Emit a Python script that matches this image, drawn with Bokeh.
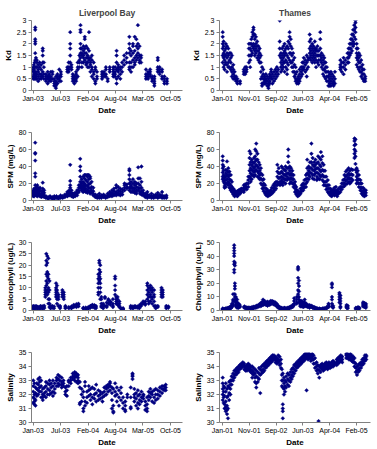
import datetime as dt

from bokeh.embed import file_html
from bokeh.layouts import gridplot
from bokeh.models import (ColumnDataSource, CustomJSTickFormatter, DatetimeTickFormatter,
                          FixedTicker, Range1d)
from bokeh.plotting import figure
from bokeh.resources import INLINE

FONT = "Liberation Sans"
NAVY = "#000080"

# ---------------------------------------------------------------- data
# Each entry: (sampling date, readings taken around that date)

LB_KD = [
    ("2003-01-10", [0.8, 0.9, 1.0, 0.6, 0.5]),
    ("2003-01-14", [0.7, 1.1, 0.6, 0.9]),
    ("2003-01-20", [0.5, 0.8, 1.2, 1.0]),
    ("2003-01-24", [2.7, 2.6, 2.2, 2.1, 2.0, 1.6, 1.3, 0.6, 0.7]),
    ("2003-01-29", [1.4, 1.0, 0.8, 0.6, 0.5]),
    ("2003-02-05", [0.5, 0.7, 1.0, 1.3, 1.2]),
    ("2003-02-15", [0.6, 0.9, 1.1, 0.8, 0.4]),
    ("2003-02-25", [0.7, 1.2, 1.0, 0.5]),
    ("2003-03-08", [0.9, 1.1, 0.6, 0.5, 0.7]),
    ("2003-03-20", [1.8, 1.7, 1.5, 1.2, 0.8, 0.6]),
    ("2003-03-28", [1.2, 1.0, 0.7, 0.5]),
    ("2003-04-12", [0.5, 0.6, 0.4, 0.7]),
    ("2003-04-25", [0.6, 0.5, 0.3, 0.8]),
    ("2003-05-05", [0.4, 0.6, 0.7, 0.5]),
    ("2003-05-18", [0.5, 0.8, 0.6, 0.4]),
    ("2003-05-30", [0.7, 0.8, 0.5]),
    ("2003-06-12", [0.3, 0.2, 0.4, 0.5]),
    ("2003-06-24", [0.1, 0.2, 0.3, 0.4, 0.6]),
    ("2003-07-05", [0.3, 0.5, 0.6, 0.7]),
    ("2003-07-18", [0.5, 0.9, 0.6, 0.4]),
    ("2003-07-30", [0.4, 0.6, 0.8, 0.7]),
    ("2003-09-15", [0.8, 1.0, 0.9]),
    ("2003-09-25", [1.0, 1.2, 0.8, 0.9]),
    ("2003-10-06", [2.5, 2.0, 1.8, 1.5, 1.2, 1.0]),
    ("2003-10-15", [0.9, 1.1, 1.0]),
    ("2003-10-25", [0.5, 0.4, 0.7, 0.6]),
    ("2003-11-05", [0.3, 0.5, 0.6, 0.4]),
    ("2003-11-18", [0.6, 0.4, 0.7, 0.5, 0.8]),
    ("2003-11-30", [0.9, 1.0, 1.2, 0.6]),
    ("2003-12-12", [1.0, 1.3, 1.5, 1.2]),
    ("2003-12-20", [2.8, 2.6, 2.5, 2.0, 1.8, 1.6, 1.4]),
    ("2003-12-30", [1.5, 1.8, 1.6, 1.2, 1.0]),
    ("2004-01-10", [1.9, 1.7, 1.4, 1.2, 1.5]),
    ("2004-01-20", [2.3, 2.2, 1.8, 1.6, 1.3]),
    ("2004-01-30", [1.6, 1.4, 1.2, 1.1, 1.9]),
    ("2004-02-10", [1.8, 1.5, 1.2, 1.0, 1.4]),
    ("2004-02-20", [2.5, 1.7, 1.3, 1.0, 1.4]),
    ("2004-03-01", [1.2, 1.1, 0.8, 1.4]),
    ("2004-03-12", [1.5, 1.3, 1.0, 0.9, 0.6]),
    ("2004-03-25", [1.2, 0.8, 0.5, 0.7]),
    ("2004-04-06", [0.9, 1.0, 0.4, 0.3]),
    ("2004-04-18", [0.8, 0.6, 0.5]),
    ("2004-05-25", [0.6, 0.7, 0.5, 0.8]),
    ("2004-06-08", [0.6, 0.8, 0.7]),
    ("2004-06-22", [0.7, 0.9, 0.6, 1.0]),
    ("2004-07-05", [0.4, 0.5]),
    ("2004-07-20", [0.8, 0.9, 1.0]),
    ("2004-08-15", [0.8, 0.9, 0.7, 1.0, 0.6]),
    ("2004-08-28", [0.7, 1.0, 0.6, 0.8]),
    ("2004-09-08", [1.7, 1.5, 1.2, 0.9, 0.3, 0.5]),
    ("2004-09-20", [1.0, 0.8, 0.6, 0.9, 1.1]),
    ("2004-10-05", [0.7, 0.9, 1.0, 0.5]),
    ("2004-10-18", [1.2, 1.0, 0.8]),
    ("2004-11-02", [1.3, 1.5, 1.1]),
    ("2004-11-20", [1.2, 1.6, 1.4]),
    ("2004-12-10", [2.3, 2.0, 1.8, 1.6, 1.0, 1.2, 0.9]),
    ("2004-12-22", [1.5, 1.2, 1.0, 1.7, 0.8]),
    ("2005-01-05", [1.6, 1.3, 1.0, 1.9, 2.0]),
    ("2005-01-18", [1.4, 1.7, 1.1, 1.2, 2.3]),
    ("2005-01-30", [2.2, 1.9, 1.5, 1.3]),
    ("2005-02-10", [2.8, 2.0, 1.8, 1.6, 1.4]),
    ("2005-02-22", [1.5, 1.2, 1.3, 1.9]),
    ("2005-03-05", [1.2, 1.4, 1.5]),
    ("2005-04-10", [0.5, 0.6, 0.9, 0.7]),
    ("2005-04-25", [0.7, 0.6, 0.8, 0.5]),
    ("2005-05-10", [0.6, 0.8, 0.7, 0.9]),
    ("2005-05-25", [0.5, 0.4, 0.6]),
    ("2005-06-10", [0.3, 0.5, 0.4, 0.2, 0.6]),
    ("2005-07-05", [1.4, 1.3, 1.0, 0.8, 0.9]),
    ("2005-07-18", [0.8, 1.0, 0.7, 0.9]),
    ("2005-08-05", [0.9, 0.5, 0.6, 0.8]),
    ("2005-08-22", [0.4, 0.5, 0.6, 0.3]),
    ("2005-09-10", [0.3, 0.4, 0.5]),
]

LB_SPM = [
    ("2003-01-10", [6, 8, 10, 12, 5]),
    ("2003-01-16", [9, 14, 7, 5, 11]),
    ("2003-01-24", [68, 56, 55, 47, 32, 28, 18, 12, 8]),
    ("2003-01-30", [15, 10, 7, 6, 13]),
    ("2003-02-08", [5, 8, 12, 16, 18]),
    ("2003-02-18", [6, 9, 14, 10]),
    ("2003-02-28", [7, 12, 15, 5]),
    ("2003-03-10", [4, 8, 11, 6]),
    ("2003-03-20", [21, 14, 10, 7, 5]),
    ("2003-03-30", [9, 6, 4, 12]),
    ("2003-04-12", [4, 3, 5]),
    ("2003-04-28", [3, 4, 2]),
    ("2003-05-12", [4, 3, 5]),
    ("2003-05-28", [3, 2, 4]),
    ("2003-06-12", [4, 3, 5, 2]),
    ("2003-06-28", [3, 5, 4]),
    ("2003-07-12", [4, 2, 3]),
    ("2003-07-28", [5, 3, 4, 6]),
    ("2003-08-12", [3, 4, 5]),
    ("2003-08-28", [5, 7, 4]),
    ("2003-09-15", [6, 8, 5, 10]),
    ("2003-09-28", [9, 12, 7, 6]),
    ("2003-10-06", [42, 23, 18, 15, 10, 8]),
    ("2003-10-16", [12, 9, 7, 5]),
    ("2003-10-28", [6, 5, 8, 4]),
    ("2003-11-10", [7, 5, 9, 6]),
    ("2003-11-25", [8, 10, 6, 12]),
    ("2003-12-08", [12, 15, 18, 10]),
    ("2003-12-18", [49, 40, 35, 28, 22, 18, 15]),
    ("2003-12-28", [20, 25, 16, 12, 14]),
    ("2004-01-08", [28, 22, 18, 15, 12, 10]),
    ("2004-01-18", [30, 26, 20, 16, 13, 11]),
    ("2004-01-28", [30, 24, 18, 14, 10]),
    ("2004-02-08", [28, 30, 22, 17, 12, 9]),
    ("2004-02-18", [30, 25, 19, 15, 11]),
    ("2004-02-28", [26, 28, 20, 14, 10, 8]),
    ("2004-03-10", [22, 16, 12, 9]),
    ("2004-03-22", [15, 11, 8, 6]),
    ("2004-04-06", [5, 7, 4]),
    ("2004-04-20", [4, 6, 3]),
    ("2004-05-05", [5, 3, 4, 8]),
    ("2004-05-20", [3, 5, 6]),
    ("2004-06-05", [4, 7, 5]),
    ("2004-06-20", [3, 5, 4]),
    ("2004-07-05", [6, 4, 8]),
    ("2004-07-20", [5, 8, 10, 6]),
    ("2004-08-05", [7, 9, 12, 5]),
    ("2004-08-20", [8, 11, 6, 14]),
    ("2004-09-05", [10, 15, 18, 8, 6]),
    ("2004-09-20", [12, 16, 9, 7]),
    ("2004-10-05", [8, 11, 14, 6]),
    ("2004-10-20", [10, 13, 7]),
    ("2004-11-05", [15, 18, 20, 12]),
    ("2004-11-22", [16, 19, 14]),
    ("2004-12-10", [37, 35, 30, 25, 20, 15, 12]),
    ("2004-12-22", [22, 18, 14, 10, 16]),
    ("2005-01-05", [20, 25, 15, 12, 10]),
    ("2005-01-18", [18, 14, 11, 22, 9]),
    ("2005-01-30", [16, 20, 12, 10, 8]),
    ("2005-02-12", [39, 26, 20, 15, 12]),
    ("2005-02-25", [26, 18, 14, 10, 8]),
    ("2005-03-08", [40, 22, 15, 11, 7]),
    ("2005-03-20", [12, 9, 6]),
    ("2005-04-05", [4, 6, 8, 5]),
    ("2005-04-20", [3, 5, 7, 10]),
    ("2005-05-05", [4, 6, 5]),
    ("2005-05-20", [3, 5, 8]),
    ("2005-06-05", [4, 6, 3]),
    ("2005-06-20", [5, 7, 4]),
    ("2005-07-05", [6, 9, 4, 3]),
    ("2005-07-20", [5, 4, 7]),
    ("2005-08-05", [3, 10, 6, 4]),
    ("2005-08-20", [5, 4, 3]),
    ("2005-09-05", [4, 6, 3]),
]

LB_CHL = [
    ("2003-01-10", [1.0, 1.5, 0.8, 2.0]),
    ("2003-01-20", [1.2, 0.7, 1.8]),
    ("2003-01-30", [1.5, 1.0, 2.0]),
    ("2003-02-10", [0.8, 1.3, 1.7]),
    ("2003-02-22", [1.1, 1.6, 0.9]),
    ("2003-03-05", [1.4, 2.0, 1.0]),
    ("2003-03-18", [1.2, 1.8, 0.8]),
    ("2003-03-30", [1.5, 2.1, 1.0]),
    ("2003-04-08", [8, 7, 9, 10, 6]),
    ("2003-04-15", [25, 22, 20, 16, 13, 11, 8]),
    ("2003-04-22", [24, 21, 17, 15, 12, 9, 7]),
    ("2003-04-30", [23, 16, 14, 10, 8, 5, 3]),
    ("2003-05-08", [13, 9, 5, 3, 1.5]),
    ("2003-05-16", [2, 1.5, 1.0]),
    ("2003-05-28", [1.2, 2.0, 1.5]),
    ("2003-06-10", [1.0, 1.8]),
    ("2003-06-25", [12, 10, 9, 8, 7, 6]),
    ("2003-07-02", [11, 9, 8, 6, 5, 3]),
    ("2003-07-12", [7, 6, 5, 2]),
    ("2003-07-24", [1.5, 1.0, 2.0]),
    ("2003-08-10", [9, 8, 7, 6]),
    ("2003-08-20", [8, 7, 5, 6]),
    ("2003-09-01", [1.5, 1.0, 2.0]),
    ("2003-09-26", [1.5, 1.0]),
    ("2003-10-15", [1.2, 1.8, 1.0]),
    ("2003-11-01", [1.5, 2.0, 2.5]),
    ("2003-11-20", [2.0, 2.8, 1.5]),
    ("2003-12-05", [2.5, 3.0, 1.8]),
    ("2004-01-10", [1.0, 0.8, 1.2]),
    ("2004-01-28", [0.9, 1.3, 0.7]),
    ("2004-02-15", [1.0, 1.5, 0.8]),
    ("2004-03-01", [1.8, 1.2, 2.0]),
    ("2004-03-15", [2.2, 1.5, 2.5]),
    ("2004-03-30", [1.8, 2.4, 1.2]),
    ("2004-04-10", [1.5, 2.0, 1.0]),
    ("2004-04-28", [16, 14, 12, 10, 8, 7]),
    ("2004-05-05", [22, 21, 18, 16, 15, 13]),
    ("2004-05-12", [20, 17, 14, 12, 10, 8, 5]),
    ("2004-05-20", [6, 5, 3, 2, 1.5]),
    ("2004-06-02", [2.5, 1.8, 3.0, 1.0]),
    ("2004-06-15", [6.0, 5.5, 2.0]),
    ("2004-06-28", [2.0, 3.5, 1.5]),
    ("2004-07-10", [4.5, 3.0, 5.0]),
    ("2004-07-25", [3.5, 4.0, 2.5]),
    ("2004-08-12", [5, 3, 2, 1.5]),
    ("2004-08-28", [15, 14, 11, 9, 7]),
    ("2004-09-05", [6, 5, 4, 3]),
    ("2004-09-15", [5, 4, 2.5, 6]),
    ("2004-09-28", [3, 2, 4, 1.5]),
    ("2004-10-10", [1.0, 0.8]),
    ("2004-10-25", [0.7, 1.0, 0.5]),
    ("2004-12-20", [1.5, 1.0, 2.0]),
    ("2005-01-05", [1.2, 1.8, 1.0]),
    ("2005-01-20", [1.5, 2.0, 1.3]),
    ("2005-02-05", [1.2, 1.8]),
    ("2005-02-20", [1.5, 2.2, 1.0]),
    ("2005-03-05", [2.0, 3.0, 2.5]),
    ("2005-03-20", [3.5, 4.0, 3.0]),
    ("2005-04-05", [2.5, 3.0, 4.0]),
    ("2005-04-20", [12, 11, 9, 7, 5]),
    ("2005-04-30", [10, 8, 6, 4, 3]),
    ("2005-05-12", [11, 10, 9, 7, 6, 4]),
    ("2005-05-25", [10, 9, 8, 6, 5, 3]),
    ("2005-06-08", [9, 7, 6, 4, 2]),
    ("2005-06-20", [2, 1.5, 1.0]),
    ("2005-07-05", [1.5, 2.0]),
    ("2005-08-01", [10, 9, 8, 7, 6]),
    ("2005-08-10", [9, 8, 7, 6]),
    ("2005-09-05", [1.5, 1.0, 2.0]),
    ("2005-09-20", [1.2, 1.8]),
]

LB_SAL = [
    ("2003-01-10", [33.0, 32.6, 32.2, 31.8, 31.4]),
    ("2003-01-18", [32.8, 32.0, 31.5, 31.3, 31.7]),
    ("2003-01-26", [31.2, 31.6, 32.1, 32.5]),
    ("2003-02-05", [32.0, 32.4, 32.8, 31.9]),
    ("2003-02-15", [33.1, 32.7, 32.3, 32.0]),
    ("2003-02-25", [33.2, 32.9, 32.5, 32.2]),
    ("2003-03-08", [32.6, 32.2, 31.8, 33.0]),
    ("2003-03-20", [31.6, 32.0, 32.4, 31.8]),
    ("2003-04-01", [32.5, 32.1, 31.9]),
    ("2003-04-12", [32.2, 32.6, 32.9, 31.8]),
    ("2003-04-25", [32.8, 32.4, 32.0]),
    ("2003-05-08", [32.0, 32.3, 32.7, 33.0]),
    ("2003-05-20", [32.5, 32.1, 32.8]),
    ("2003-06-02", [32.2, 32.6, 33.0, 31.9]),
    ("2003-06-15", [32.4, 32.8, 32.1]),
    ("2003-06-28", [33.0, 32.6, 33.2]),
    ("2003-07-10", [33.1, 33.4, 32.8, 32.6]),
    ("2003-07-22", [32.7, 33.0, 33.3]),
    ("2003-08-05", [32.5, 32.9, 33.2, 32.7]),
    ("2003-08-18", [33.0, 32.6, 32.8]),
    ("2003-09-01", [32.2, 32.5, 32.0]),
    ("2003-09-12", [32.6, 31.9, 32.3]),
    ("2003-09-25", [32.9, 33.0, 32.6]),
    ("2003-10-10", [33.0, 33.2, 32.8]),
    ("2003-10-25", [33.3, 33.5, 33.1]),
    ("2003-11-08", [33.6, 33.4, 33.2, 33.0]),
    ("2003-11-20", [33.5, 33.3, 32.9]),
    ("2003-12-02", [33.2, 32.8, 33.4, 33.0]),
    ("2003-12-15", [32.5, 31.4, 31.3, 32.9]),
    ("2003-12-28", [32.4, 32.0, 31.5]),
    ("2004-01-10", [31.8, 31.0, 30.8, 32.2]),
    ("2004-01-22", [32.6, 31.5, 31.2, 32.9]),
    ("2004-02-05", [31.8, 32.2, 31.4]),
    ("2004-02-18", [32.3, 31.9, 32.6]),
    ("2004-03-02", [31.6, 32.0, 32.4]),
    ("2004-03-15", [32.5, 31.8, 31.3]),
    ("2004-03-30", [32.0, 32.4, 31.7]),
    ("2004-04-12", [31.5, 32.1, 32.7]),
    ("2004-04-28", [31.9, 32.3, 31.6]),
    ("2004-05-12", [32.0, 31.7, 32.2]),
    ("2004-05-28", [31.8, 32.1, 31.5]),
    ("2004-06-10", [32.2, 32.5, 31.9]),
    ("2004-06-25", [32.4, 32.6, 32.0]),
    ("2004-07-08", [32.5, 32.7, 32.2]),
    ("2004-07-22", [32.9, 32.6, 32.3, 32.8]),
    ("2004-08-05", [32.5, 32.1, 31.6, 31.0]),
    ("2004-08-15", [31.2, 30.8, 30.7, 32.4]),
    ("2004-08-28", [32.8, 32.2, 31.9]),
    ("2004-09-10", [32.5, 32.0, 31.5]),
    ("2004-09-25", [31.8, 32.3, 31.2]),
    ("2004-10-10", [32.1, 31.6, 32.5]),
    ("2004-10-25", [31.4, 31.0, 31.8]),
    ("2004-11-10", [31.2, 30.9, 30.8, 31.5]),
    ("2004-11-25", [31.8, 32.0]),
    ("2004-12-20", [32.5, 31.8, 31.1, 31.0]),
    ("2005-01-02", [33.5, 33.3, 33.4, 33.1]),
    ("2005-01-15", [32.0, 31.5, 31.8, 32.4]),
    ("2005-01-28", [31.2, 31.7, 32.1]),
    ("2005-02-10", [31.9, 31.4, 32.3, 31.0]),
    ("2005-02-22", [31.6, 32.0, 31.3]),
    ("2005-03-08", [31.8, 31.5, 32.2]),
    ("2005-03-22", [31.7, 32.0, 31.9]),
    ("2005-04-05", [31.2, 30.9, 31.5]),
    ("2005-04-18", [31.3, 31.0, 30.8, 31.8]),
    ("2005-04-30", [31.6, 31.9, 32.2]),
    ("2005-05-12", [31.8, 32.1, 32.4]),
    ("2005-05-25", [32.2, 31.5, 32.0]),
    ("2005-06-08", [31.4, 31.8, 32.3]),
    ("2005-06-20", [31.6, 32.0, 32.4]),
    ("2005-07-05", [32.0, 32.3, 31.7]),
    ("2005-07-20", [32.2, 32.5, 31.9]),
    ("2005-08-05", [32.1, 32.4, 32.6]),
    ("2005-08-20", [32.3, 32.6, 32.4]),
    ("2005-09-01", [32.5, 32.7, 32.3]),
]

TH_KD = [
    ("2001-01-12", [2.5, 2.3, 2.0, 1.8, 1.5, 1.2]),
    ("2001-01-22", [2.1, 1.9, 1.6, 1.4, 1.0]),
    ("2001-02-02", [1.7, 1.5, 1.3, 1.1, 0.9]),
    ("2001-02-15", [2.0, 1.8, 1.5, 1.2]),
    ("2001-03-01", [1.9, 1.6, 1.4, 1.1, 0.8]),
    ("2001-03-15", [1.8, 1.5, 1.2, 1.0]),
    ("2001-03-28", [1.6, 1.3, 1.0]),
    ("2001-04-12", [1.6, 1.4, 1.2, 0.9]),
    ("2001-04-25", [1.5, 1.0, 0.8, 0.6]),
    ("2001-05-10", [1.1, 0.9, 0.7, 0.5]),
    ("2001-05-25", [0.8, 0.6, 0.5]),
    ("2001-06-10", [0.6, 0.5, 0.4]),
    ("2001-06-25", [0.5, 0.3, 0.4]),
    ("2001-07-25", [0.3, 0.4]),
    ("2001-09-05", [0.7, 0.9, 0.8]),
    ("2001-09-20", [1.0, 0.8, 0.7]),
    ("2001-10-05", [0.9, 1.0, 0.8]),
    ("2001-11-01", [1.2, 1.5, 1.8, 2.0]),
    ("2001-11-15", [2.0, 1.8, 1.5, 1.3, 1.0]),
    ("2001-11-28", [2.2, 2.0, 1.7, 1.5]),
    ("2001-12-10", [2.5, 2.3, 1.9, 1.6]),
    ("2001-12-22", [2.7, 2.6, 2.4, 2.0, 1.8]),
    ("2002-01-05", [2.4, 2.2, 1.9, 1.7, 1.5]),
    ("2002-01-18", [2.3, 2.0, 1.8, 1.6]),
    ("2002-02-01", [2.1, 1.9, 1.7, 1.4]),
    ("2002-02-15", [1.9, 1.7, 1.5, 1.3]),
    ("2002-03-01", [1.8, 1.6, 1.4, 1.2]),
    ("2002-03-15", [1.5, 1.2, 0.8, 0.5]),
    ("2002-03-28", [1.0, 0.6, 0.3, 0.2]),
    ("2002-04-10", [0.9, 0.7, 0.5, 0.3]),
    ("2002-04-25", [0.6, 0.4, 0.3, 0.5]),
    ("2002-05-10", [0.5, 0.7, 0.4, 0.3]),
    ("2002-05-25", [0.6, 0.4, 0.2]),
    ("2002-06-08", [0.5, 0.3, 0.1, 0.2]),
    ("2002-06-22", [0.4, 0.6, 0.7, 0.3]),
    ("2002-07-08", [0.8, 0.6, 0.5, 0.9]),
    ("2002-07-22", [0.5, 0.7, 0.3]),
    ("2002-08-08", [0.6, 0.8, 0.4]),
    ("2002-08-25", [0.9, 0.7, 0.5]),
    ("2002-09-10", [1.0, 0.8, 0.6]),
    ("2002-09-25", [0.9, 0.7]),
    ("2002-10-12", [3.0, 2.1, 1.8, 1.5]),
    ("2002-10-25", [1.6, 1.4, 1.2, 1.0, 0.8]),
    ("2002-11-08", [1.8, 1.5, 1.3, 1.1, 0.9]),
    ("2002-11-22", [1.9, 1.6, 1.4, 1.2, 1.0]),
    ("2002-12-05", [2.0, 1.7, 1.5, 1.2, 0.8]),
    ("2002-12-18", [1.8, 1.6, 1.3, 1.0]),
    ("2003-01-02", [1.9, 1.5, 1.2, 0.9, 0.7]),
    ("2003-01-15", [2.1, 1.8, 1.4, 1.1]),
    ("2003-01-30", [2.5, 2.3, 2.0, 1.6, 1.3]),
    ("2003-02-12", [2.2, 1.9, 1.6, 1.2]),
    ("2003-02-25", [1.8, 1.5, 1.2, 1.0]),
    ("2003-03-10", [1.6, 1.3, 1.0, 0.8]),
    ("2003-03-25", [1.4, 1.1, 0.8, 0.6]),
    ("2003-04-08", [1.0, 0.7, 0.5, 0.4]),
    ("2003-04-22", [0.8, 0.5, 0.3, 0.4]),
    ("2003-05-08", [0.6, 0.4, 0.3, 0.5]),
    ("2003-05-22", [0.7, 0.5, 0.9, 0.4]),
    ("2003-06-08", [0.8, 1.0, 0.6]),
    ("2003-06-22", [1.0, 0.7, 0.9, 1.2]),
    ("2003-07-08", [1.2, 0.9, 1.4, 1.0]),
    ("2003-07-25", [1.1, 1.3, 0.8]),
    ("2003-08-10", [1.5, 1.2, 0.9, 0.6]),
    ("2003-08-25", [1.3, 1.0, 1.4]),
    ("2003-09-12", [2.4, 2.1, 1.8, 1.6, 1.4]),
    ("2003-09-25", [2.2, 1.9, 1.7, 1.5, 1.3]),
    ("2003-10-10", [2.0, 1.8, 1.6, 1.4, 1.2]),
    ("2003-10-25", [1.9, 1.7, 1.5, 1.3]),
    ("2003-11-08", [2.1, 1.8, 1.6, 1.4, 1.2]),
    ("2003-11-22", [1.8, 1.7, 1.5, 1.3, 1.0]),
    ("2003-12-08", [1.9, 1.7, 1.5, 1.2]),
    ("2003-12-22", [1.7, 1.5, 1.3, 1.1]),
    ("2004-01-08", [2.5, 2.2, 1.8, 1.5, 1.3]),
    ("2004-01-22", [1.6, 1.4, 1.2, 1.0]),
    ("2004-02-08", [1.5, 1.3, 1.1, 0.9, 0.7]),
    ("2004-02-22", [1.4, 1.2, 0.9, 0.6]),
    ("2004-03-08", [1.2, 1.0, 0.8, 0.5]),
    ("2004-03-22", [1.0, 0.8, 0.4, 0.6]),
    ("2004-04-08", [0.8, 0.6, 0.4, 0.2]),
    ("2004-04-22", [0.7, 0.5, 0.3, 0.2]),
    ("2004-05-06", [0.8, 0.6, 0.4, 0.2]),
    ("2004-05-20", [0.7, 0.5, 0.3]),
    ("2004-06-05", [0.6, 0.4, 0.3, 0.2]),
    ("2004-06-20", [0.8, 0.5, 0.3]),
    ("2004-08-20", [1.3, 1.1, 1.0, 0.9]),
    ("2004-09-05", [1.2, 1.0, 0.8]),
    ("2004-09-25", [1.4, 1.2, 1.0, 0.7]),
    ("2004-10-15", [1.3, 1.1, 0.9]),
    ("2004-11-08", [1.6, 1.4, 1.2]),
    ("2004-11-20", [1.8, 1.6, 1.4, 1.2]),
    ("2004-12-02", [2.0, 1.8, 1.6, 1.5]),
    ("2004-12-15", [2.2, 2.0, 1.8, 1.6]),
    ("2004-12-28", [2.4, 2.2, 2.0, 1.7]),
    ("2005-01-10", [2.6, 2.4, 2.1, 1.9]),
    ("2005-01-22", [2.8, 2.6, 2.3, 2.0]),
    ("2005-02-05", [3.0, 2.9, 2.7, 2.5, 2.2]),
    ("2005-02-18", [2.0, 1.8, 1.6, 1.4, 1.1]),
    ("2005-03-02", [1.8, 1.5, 1.3, 1.0]),
    ("2005-03-15", [1.6, 1.4, 1.2, 0.9]),
    ("2005-03-28", [1.5, 1.2, 1.0, 0.8]),
    ("2005-04-10", [1.3, 1.0, 0.8, 0.6]),
    ("2005-04-25", [1.1, 0.9, 0.7, 0.5]),
    ("2005-05-10", [0.9, 0.7, 0.5, 0.4]),
    ("2005-05-25", [0.6, 0.5, 0.4]),
]

TH_SPM = [
    ("2001-01-12", [52, 47, 42, 38, 33, 28, 25]),
    ("2001-01-22", [40, 35, 30, 26, 22]),
    ("2001-02-02", [28, 24, 20, 17, 15]),
    ("2001-02-15", [36, 32, 28, 24, 20, 16]),
    ("2001-03-01", [46, 35, 30, 25, 20]),
    ("2001-03-15", [38, 33, 28, 22, 18]),
    ("2001-03-28", [34, 30, 25, 20, 15]),
    ("2001-04-12", [30, 24, 18, 14, 12]),
    ("2001-04-25", [22, 16, 12, 10]),
    ("2001-05-10", [14, 11, 9, 7]),
    ("2001-05-25", [12, 9, 7, 5]),
    ("2001-06-10", [10, 8, 6]),
    ("2001-06-25", [11, 8, 6, 5]),
    ("2001-07-10", [9, 7, 10, 12]),
    ("2001-07-25", [8, 10, 13]),
    ("2001-08-10", [12, 10, 14]),
    ("2001-09-05", [15, 18, 12, 10]),
    ("2001-09-20", [17, 19, 14]),
    ("2001-10-08", [20, 16, 13]),
    ("2001-10-25", [28, 24, 20, 16]),
    ("2001-11-08", [58, 50, 42, 35, 28]),
    ("2001-11-20", [55, 45, 38, 32, 26, 22]),
    ("2001-12-02", [48, 42, 36, 30, 25]),
    ("2001-12-15", [45, 40, 35, 30]),
    ("2001-12-28", [50, 44, 38, 33, 28]),
    ("2002-01-10", [60, 52, 46, 40, 35, 30]),
    ("2002-01-22", [67, 58, 48, 42, 36]),
    ("2002-02-05", [55, 48, 40, 34, 28]),
    ("2002-02-18", [45, 38, 32, 27]),
    ("2002-03-02", [42, 35, 30, 25]),
    ("2002-03-15", [38, 32, 26, 20]),
    ("2002-04-01", [30, 24, 18, 14]),
    ("2002-04-15", [25, 20, 15, 11]),
    ("2002-05-01", [18, 14, 10, 8]),
    ("2002-05-15", [14, 10, 8, 6]),
    ("2002-06-01", [12, 9, 7, 5]),
    ("2002-06-15", [10, 8, 6]),
    ("2002-07-01", [12, 9, 7]),
    ("2002-07-15", [15, 11, 8]),
    ("2002-08-01", [18, 14, 10]),
    ("2002-08-15", [20, 16, 12]),
    ("2002-09-01", [22, 18, 14]),
    ("2002-09-15", [42, 34, 28, 22, 18]),
    ("2002-10-01", [38, 32, 26, 20]),
    ("2002-10-15", [32, 27, 22, 18]),
    ("2002-11-01", [40, 34, 28, 24, 20]),
    ("2002-11-15", [38, 32, 27, 22, 18]),
    ("2002-12-01", [36, 30, 25, 21]),
    ("2002-12-15", [40, 35, 30, 25, 20]),
    ("2003-01-01", [38, 32, 28, 24]),
    ("2003-01-15", [60, 52, 45, 38, 32, 26]),
    ("2003-02-01", [40, 35, 30, 25, 20]),
    ("2003-02-15", [38, 32, 27, 22]),
    ("2003-03-01", [35, 30, 25, 20]),
    ("2003-03-15", [30, 25, 20, 16]),
    ("2003-04-01", [22, 18, 14, 10]),
    ("2003-04-15", [16, 12, 9, 7]),
    ("2003-05-01", [12, 9, 7, 5]),
    ("2003-05-15", [10, 8, 6]),
    ("2003-06-01", [14, 10, 8]),
    ("2003-06-15", [18, 14, 11]),
    ("2003-07-01", [20, 16, 12]),
    ("2003-07-15", [24, 19, 15]),
    ("2003-08-01", [30, 25, 20, 16]),
    ("2003-08-15", [48, 38, 32, 26, 22]),
    ("2003-09-01", [40, 35, 30, 25]),
    ("2003-09-15", [45, 38, 33, 28]),
    ("2003-10-01", [67, 55, 45, 38, 32]),
    ("2003-10-15", [50, 42, 36, 30, 26]),
    ("2003-11-01", [45, 40, 35, 30, 25]),
    ("2003-11-15", [48, 42, 37, 32]),
    ("2003-12-01", [44, 38, 33, 28, 24]),
    ("2003-12-15", [52, 45, 38, 32, 26]),
    ("2004-01-01", [50, 42, 36, 30, 25]),
    ("2004-01-15", [57, 48, 40, 34, 28]),
    ("2004-02-01", [52, 44, 36, 30, 24]),
    ("2004-02-15", [42, 35, 28, 22, 18]),
    ("2004-03-01", [35, 28, 22, 18]),
    ("2004-03-15", [28, 22, 17, 13]),
    ("2004-04-01", [24, 18, 14, 10]),
    ("2004-04-15", [18, 14, 10, 8]),
    ("2004-05-01", [14, 10, 8, 6]),
    ("2004-05-15", [12, 9, 7, 5]),
    ("2004-06-01", [13, 10, 8]),
    ("2004-06-15", [15, 11, 8, 6]),
    ("2004-07-01", [16, 12, 9]),
    ("2004-07-15", [12, 9, 7, 5]),
    ("2004-08-01", [14, 10, 8]),
    ("2004-08-20", [16, 13, 10]),
    ("2004-09-05", [20, 16, 13]),
    ("2004-09-20", [24, 20, 16]),
    ("2004-10-05", [30, 25, 20, 17]),
    ("2004-10-20", [34, 28, 23, 19]),
    ("2004-11-05", [36, 30, 25, 20]),
    ("2004-11-20", [38, 32, 27, 22]),
    ("2004-12-05", [35, 30, 25, 20]),
    ("2004-12-20", [37, 31, 26, 22]),
    ("2005-01-05", [36, 30, 24]),
    ("2005-01-25", [73, 70, 65, 60, 55, 50]),
    ("2005-02-05", [72, 66, 58, 52, 43, 36]),
    ("2005-02-18", [38, 33, 28, 24, 20]),
    ("2005-03-02", [35, 30, 25, 21]),
    ("2005-03-15", [30, 25, 20, 16]),
    ("2005-04-01", [24, 20, 15, 12]),
    ("2005-04-15", [20, 15, 11, 8]),
    ("2005-05-01", [15, 11, 8, 6]),
    ("2005-05-15", [13, 10, 7, 5]),
    ("2005-06-01", [12, 9, 6]),
]

TH_CHL = [
    ("2001-01-12", [1.0, 0.5, 1.5]),
    ("2001-01-28", [0.8, 1.2]),
    ("2001-02-12", [1.0, 1.5, 0.6]),
    ("2001-02-28", [1.2, 0.8, 1.8]),
    ("2001-03-15", [1.5, 1.0, 2.0]),
    ("2001-03-30", [1.8, 1.2, 2.5]),
    ("2001-04-12", [2.0, 3.0, 1.5]),
    ("2001-04-25", [3.0, 4.0, 2.5, 5.0]),
    ("2001-05-08", [5.0, 7.0, 8.0, 4.0, 12.0]),
    ("2001-05-20", [48, 46, 44, 42, 40, 36, 34, 30, 28]),
    ("2001-05-28", [35, 33, 20, 18, 16, 12, 10, 7]),
    ("2001-06-08", [10, 9, 8, 6, 4, 3]),
    ("2001-06-22", [8, 6, 5, 4, 3, 2]),
    ("2001-07-08", [5, 4, 3, 2]),
    ("2001-07-22", [4, 3, 2.5]),
    ("2001-09-10", [3.0, 2.0, 2.5]),
    ("2001-09-28", [2.0, 1.5, 2.5]),
    ("2001-10-15", [1.5, 2.0, 1.2]),
    ("2001-11-01", [1.8, 1.2, 2.2]),
    ("2001-11-18", [1.5, 2.0, 1.0]),
    ("2001-12-05", [1.8, 2.5, 1.3]),
    ("2001-12-22", [2.0, 1.5, 2.8]),
    ("2002-01-10", [2.5, 3.0, 2.0]),
    ("2002-01-28", [3.0, 3.5, 2.2]),
    ("2002-02-15", [3.5, 4.0, 2.8]),
    ("2002-03-05", [4.0, 5.0, 3.0]),
    ("2002-03-22", [4.5, 6.0, 3.5]),
    ("2002-04-08", [5.0, 8.0, 6.5, 4.0]),
    ("2002-04-25", [5.5, 7.0, 4.5]),
    ("2002-05-12", [6.0, 4.0, 5.0]),
    ("2002-05-28", [4.5, 3.5, 6.5]),
    ("2002-06-15", [5.0, 6.0, 4.0]),
    ("2002-07-01", [7.0, 5.5, 4.5]),
    ("2002-07-18", [6.0, 5.0, 7.0]),
    ("2002-08-05", [6.5, 4.5, 5.5]),
    ("2002-08-22", [5.0, 6.0, 4.0]),
    ("2002-09-08", [4.0, 3.0, 5.0]),
    ("2002-09-25", [2.5, 3.5, 2.0]),
    ("2002-10-12", [2.0, 1.5, 2.5]),
    ("2002-10-30", [1.5, 1.0, 2.0]),
    ("2002-11-18", [1.2, 1.8, 1.0]),
    ("2002-12-05", [1.5, 1.0, 2.0]),
    ("2002-12-22", [1.8, 1.2]),
    ("2003-01-10", [1.5, 2.0, 1.0]),
    ("2003-01-28", [2.0, 1.5, 2.5]),
    ("2003-02-15", [2.5, 3.0, 2.0]),
    ("2003-03-05", [3.0, 4.0, 2.5]),
    ("2003-03-22", [5.0, 7.0, 4.0, 9.0]),
    ("2003-04-20", [8.0, 10.0, 6.0, 5.0]),
    ("2003-05-05", [32, 31, 30, 24, 20, 15, 12, 10]),
    ("2003-05-15", [22, 18, 14, 10, 8, 6]),
    ("2003-05-30", [7.0, 5.0, 4.0, 3.0]),
    ("2003-06-15", [5.0, 4.0, 3.0, 7.0]),
    ("2003-07-01", [4.0, 3.0, 6.0, 2.5]),
    ("2003-07-18", [8.0, 6.0, 4.0, 3.0]),
    ("2003-08-05", [5.0, 4.0, 3.0]),
    ("2003-08-22", [4.0, 3.0, 2.5]),
    ("2003-09-10", [4.0, 3.0, 2.0]),
    ("2003-09-28", [3.0, 2.5, 3.5]),
    ("2003-10-15", [2.5, 3.0, 2.0]),
    ("2003-11-01", [2.0, 2.5, 1.5]),
    ("2003-11-20", [1.5, 2.0, 1.0]),
    ("2003-12-08", [1.0, 1.5, 0.8]),
    ("2003-12-28", [1.2, 0.8, 1.5]),
    ("2004-01-15", [0.8, 1.2, 0.5]),
    ("2004-02-02", [1.0, 1.5, 0.8]),
    ("2004-02-20", [1.2, 0.8, 1.8]),
    ("2004-03-20", [2.0, 2.5, 1.5]),
    ("2004-04-10", [3.0, 4.0, 2.5, 5.0]),
    ("2004-05-18", [20, 19, 17, 10, 8, 5, 3]),
    ("2004-05-30", [2.5, 3.5, 2.0]),
    ("2004-08-10", [13, 12, 10, 8, 6]),
    ("2004-08-20", [11, 9, 7, 5, 3, 2]),
    ("2004-10-28", [4.0, 3.0, 2.0]),
    ("2004-11-10", [3.5, 2.5, 1.5]),
    ("2005-02-10", [2.0, 1.5, 1.0]),
    ("2005-03-05", [1.5, 2.5, 1.0]),
    ("2005-03-20", [2.0, 1.2]),
    ("2005-05-01", [6.0, 5.0, 4.0, 3.0]),
    ("2005-05-15", [5.5, 4.5, 3.5, 2.5]),
    ("2005-06-01", [5.0, 4.0, 3.0, 2.0]),
]

TH_SAL = [
    ("2001-01-12", [33.2, 32.8, 32.4, 32.0, 31.6]),
    ("2001-01-22", [32.6, 32.2, 31.8, 31.4]),
    ("2001-02-02", [32.5, 31.9, 31.3, 31.0]),
    ("2001-02-15", [32.8, 32.2, 31.5, 31.1, 30.8]),
    ("2001-03-01", [32.4, 31.8, 31.2, 30.9, 30.6]),
    ("2001-03-12", [32.6, 31.9, 31.0, 30.3]),
    ("2001-03-25", [32.9, 32.5, 32.1, 31.6]),
    ("2001-04-08", [33.0, 32.7, 32.4, 32.0]),
    ("2001-04-22", [33.3, 33.0, 32.7]),
    ("2001-05-08", [33.5, 33.2, 33.0]),
    ("2001-05-22", [33.7, 33.4, 33.2]),
    ("2001-06-08", [33.8, 33.6, 33.4]),
    ("2001-06-22", [33.9, 33.7, 33.5]),
    ("2001-07-08", [34.0, 33.8, 33.6]),
    ("2001-07-22", [34.1, 33.9, 33.8]),
    ("2001-08-08", [34.2, 34.0, 33.9]),
    ("2001-08-25", [34.3, 34.1, 34.0]),
    ("2001-09-10", [34.2, 34.0, 33.8]),
    ("2001-09-25", [34.0, 33.8, 33.7]),
    ("2001-10-10", [34.1, 33.9, 33.7]),
    ("2001-10-25", [34.2, 34.0, 33.8]),
    ("2001-11-08", [34.1, 33.9, 33.7]),
    ("2001-11-22", [34.0, 33.8, 33.6]),
    ("2001-12-08", [34.0, 33.7, 33.5, 33.2]),
    ("2001-12-22", [33.9, 33.6, 33.4]),
    ("2002-01-08", [33.8, 33.5, 33.2, 32.9]),
    ("2002-01-22", [33.7, 33.3, 32.8, 32.5]),
    ("2002-02-08", [33.6, 33.2, 32.9]),
    ("2002-02-22", [33.9, 33.5, 33.1]),
    ("2002-03-08", [33.8, 33.4, 32.1]),
    ("2002-03-22", [34.0, 33.7, 33.5]),
    ("2002-04-08", [34.1, 33.8, 33.6]),
    ("2002-04-22", [34.2, 34.0, 33.7]),
    ("2002-05-08", [34.3, 34.1, 33.9]),
    ("2002-05-22", [34.4, 34.2, 34.0]),
    ("2002-06-08", [34.5, 34.3, 34.1]),
    ("2002-06-22", [34.6, 34.4, 34.2]),
    ("2002-07-08", [34.7, 34.5, 34.3]),
    ("2002-07-22", [34.8, 34.6, 34.4]),
    ("2002-08-08", [34.8, 34.6, 34.5]),
    ("2002-08-25", [34.7, 34.5, 34.3]),
    ("2002-09-10", [34.6, 34.4, 34.2]),
    ("2002-09-25", [34.8, 34.5, 34.3]),
    ("2002-10-10", [34.7, 34.4, 34.1]),
    ("2002-10-25", [34.5, 34.2, 33.9]),
    ("2002-11-05", [33.8, 33.4, 33.0, 32.6]),
    ("2002-11-15", [33.5, 33.0, 32.5, 31.3, 31.0, 30.8, 30.3]),
    ("2002-11-28", [33.2, 32.8, 32.4, 32.0]),
    ("2002-12-10", [33.0, 32.6, 32.2]),
    ("2002-12-22", [33.3, 32.9, 32.5]),
    ("2003-01-08", [33.5, 33.1, 32.7]),
    ("2003-01-22", [33.4, 33.0, 32.6]),
    ("2003-02-08", [33.6, 33.2, 32.9]),
    ("2003-02-22", [33.8, 33.4, 33.1]),
    ("2003-03-08", [33.9, 33.6, 33.3]),
    ("2003-03-22", [34.1, 33.8, 33.5]),
    ("2003-04-08", [34.2, 34.0, 33.7]),
    ("2003-04-22", [34.3, 34.1, 33.9]),
    ("2003-05-08", [34.4, 34.2, 34.0]),
    ("2003-05-22", [34.5, 34.3, 34.1]),
    ("2003-06-08", [34.6, 34.4, 34.2]),
    ("2003-06-22", [34.7, 34.5, 34.3]),
    ("2003-07-08", [34.8, 34.6, 34.4]),
    ("2003-07-22", [34.9, 34.7, 34.5]),
    ("2003-08-08", [34.9, 34.8, 34.6, 32.3]),
    ("2003-08-25", [34.9, 34.7, 34.5]),
    ("2003-09-10", [34.9, 34.8, 34.6]),
    ("2003-09-25", [34.8, 34.6, 34.4]),
    ("2003-10-10", [34.9, 34.7, 34.5]),
    ("2003-10-25", [34.8, 34.5, 34.2]),
    ("2003-11-10", [34.6, 34.2, 33.9]),
    ("2003-11-28", [34.3, 34.0, 33.7]),
    ("2003-12-12", [34.1, 33.8, 33.5]),
    ("2003-12-20", [30.1]),
    ("2003-12-28", [34.0, 33.7, 33.2]),
    ("2004-01-12", [34.1, 33.9, 33.6]),
    ("2004-01-28", [34.2, 34.0, 33.8]),
    ("2004-02-12", [34.1, 33.9, 33.7]),
    ("2004-02-28", [34.2, 34.0, 33.8]),
    ("2004-03-15", [34.3, 34.1, 33.9]),
    ("2004-03-30", [34.2, 34.0, 33.8]),
    ("2004-04-15", [34.3, 34.1, 33.9]),
    ("2004-04-30", [34.2, 34.0, 33.9]),
    ("2004-05-15", [34.3, 34.1, 34.0]),
    ("2004-05-30", [34.4, 34.2, 34.0]),
    ("2004-06-15", [34.3, 34.2, 34.1]),
    ("2004-07-10", [34.5, 34.3, 34.1]),
    ("2004-07-25", [34.6, 34.4, 34.2]),
    ("2004-08-10", [34.7, 34.5, 34.3]),
    ("2004-08-25", [34.8, 34.6, 34.4]),
    ("2004-09-10", [34.7, 34.5, 34.3]),
    ("2004-10-25", [34.9, 34.8, 34.6]),
    ("2004-11-10", [34.9, 34.7, 34.6]),
    ("2004-11-25", [34.8, 34.7, 34.5]),
    ("2004-12-10", [34.9, 34.7, 34.5]),
    ("2004-12-25", [34.8, 34.6, 34.4]),
    ("2005-01-10", [34.7, 34.5, 34.3]),
    ("2005-01-25", [34.6, 34.3, 34.0]),
    ("2005-02-08", [34.2, 33.9, 33.6]),
    ("2005-02-22", [34.0, 33.7, 33.4]),
    ("2005-03-08", [34.1, 33.8, 33.6]),
    ("2005-03-22", [34.2, 33.9, 33.7]),
    ("2005-04-08", [34.3, 34.1, 33.9]),
    ("2005-04-22", [34.5, 34.3, 34.1]),
    ("2005-05-08", [34.6, 34.4, 34.2]),
    ("2005-05-22", [34.8, 34.6, 34.4]),
    ("2005-06-05", [34.8, 34.7, 34.5]),
]

# Date axes: visible span and major tick dates for each site
LB_RANGE = ("2002-12-28", "2006-01-01")
LB_TICKS = ["2003-01-09", "2003-07-28", "2004-02-13", "2004-08-31", "2005-03-19", "2005-10-05"]
TH_RANGE = ("2000-12-07", "2005-07-23")
TH_TICKS = ["2001-01-09", "2001-11-05", "2002-09-01", "2003-06-28", "2004-04-23", "2005-02-17"]

KD_TICKS = [0, 0.5, 1, 1.5, 2, 2.5, 3]
SPM_TICKS = [0, 20, 40, 60, 80]
LB_CHL_TICKS = [0, 5, 10, 15, 20, 25, 30]
TH_CHL_TICKS = [0, 10, 20, 30, 40, 50]
SAL_TICKS = [30, 31, 32, 33, 34, 35]

# ---------------------------------------------------------------- layout
COL_W = [188, 189]
ROW_H = [117, 110, 110, 112]
ROW_TOP = [20, 15, 15, 15]
FRAME_W, FRAME_H = 152, 72
LEFT = 30


def to_dt(s):
    return dt.datetime.fromisoformat(s)


def to_ms(s):
    return (to_dt(s) - dt.datetime(1970, 1, 1)).total_seconds() * 1000.0


def panel(samples, ylabel, yticks, col, row, title=None):
    rng, ticks = (LB_RANGE, LB_TICKS) if col == 0 else (TH_RANGE, TH_TICKS)
    w, h = COL_W[col], ROW_H[row]
    top = ROW_TOP[row]
    p = figure(
        width=w, height=h,
        x_axis_type="datetime",
        x_range=Range1d(to_dt(rng[0]), to_dt(rng[1])),
        y_range=Range1d(yticks[0], yticks[-1]),
        output_backend="svg", toolbar_location=None,
        min_border_left=LEFT, min_border_right=w - LEFT - FRAME_W,
        min_border_top=top, min_border_bottom=h - top - FRAME_H,
        background_fill_color="white", border_fill_color="white",
    )
    if title:
        p.title.text = title
        p.title.align = "center"
        p.title.text_font = FONT
        p.title.text_font_size = "8.5px"
        p.title.text_font_style = "bold"
        p.title.standoff = 6

    xs, ys = [], []
    for day, vals in samples:
        for v in vals:
            xs.append(to_dt(day))
            ys.append(v)
    src = ColumnDataSource(dict(x=xs, y=ys))
    p.scatter("x", "y", source=src, marker="square", angle=0.785398, size=2.7,
              fill_color=NAVY, line_color=NAVY, line_width=0.4)

    p.xaxis.ticker = FixedTicker(ticks=[to_ms(t) for t in ticks])
    fmt = "%b-%y"
    p.xaxis.formatter = DatetimeTickFormatter(
        microseconds=fmt, milliseconds=fmt, seconds=fmt, minsec=fmt, minutes=fmt,
        hourmin=fmt, hours=fmt, days=fmt, months=fmt, years=fmt)
    p.yaxis.ticker = FixedTicker(ticks=yticks)
    p.yaxis.formatter = CustomJSTickFormatter(code="return String(tick);")

    p.xaxis.axis_label = "Date"
    p.yaxis.axis_label = ylabel
    for ax in (p.xaxis, p.yaxis):
        ax.axis_line_color = "#808080"
        ax.major_tick_line_color = "#808080"
        ax.minor_tick_line_color = None
        ax.major_tick_out = 3
        ax.major_tick_in = 0
        ax.major_label_text_font = FONT
        ax.major_label_text_font_size = "7px"
        ax.major_label_text_color = "black"
        ax.major_label_standoff = 1
        ax.axis_label_text_font = FONT
        ax.axis_label_text_font_size = "8px"
        ax.axis_label_text_font_style = "bold"
        ax.axis_label_text_color = "black"
        ax.axis_label_standoff = 1
    p.yaxis.major_label_standoff = 2
    p.grid.visible = False
    p.outline_line_color = None
    return p


grid = gridplot([
    [panel(LB_KD, "Kd", KD_TICKS, 0, 0, "Liverpool Bay"),
     panel(TH_KD, "Kd", KD_TICKS, 1, 0, "Thames")],
    [panel(LB_SPM, "SPM (mg/L)", SPM_TICKS, 0, 1),
     panel(TH_SPM, "SPM (mg/L)", SPM_TICKS, 1, 1)],
    [panel(LB_CHL, "chlorophyll (ug/L)", LB_CHL_TICKS, 0, 2),
     panel(TH_CHL, "Chlorophyll (ug/L)", TH_CHL_TICKS, 1, 2)],
    [panel(LB_SAL, "Salinity", SAL_TICKS, 0, 3),
     panel(TH_SAL, "Salinity", SAL_TICKS, 1, 3)],
], toolbar_location=None)

open("out.html", "w").write(file_html(grid, INLINE))
